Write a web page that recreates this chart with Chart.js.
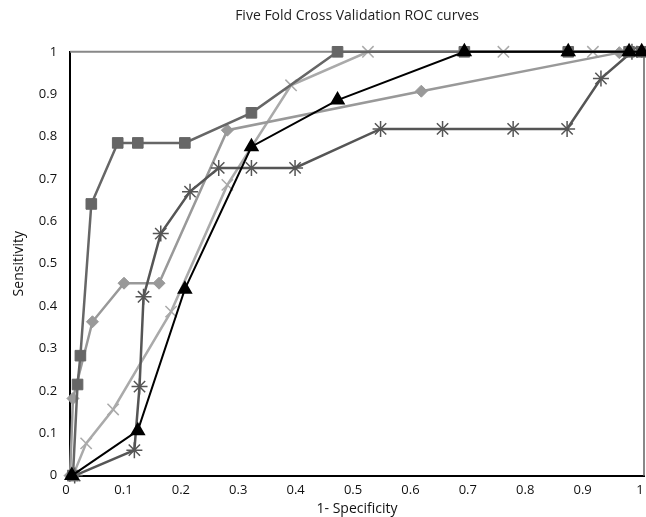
<!DOCTYPE html>
<html>
<head>
<meta charset="utf-8">
<script src="https://cdn.jsdelivr.net/npm/chart.js@4/dist/chart.umd.min.js"></script>
<style>
  body { margin: 0; background: #fff; }
  #wrap { width: 646px; height: 517px; }
</style>
</head>
<body>
<div id="wrap"><canvas id="roc-chart"></canvas></div>
<script>
// fold 1..5: x = 1-specificity, y = sensitivity
let triX = [0.003, 0.118, 0.2, 0.316, 0.466, 0.687, 0.868, 0.974, 0.996];
let triY = [0, 0.106, 0.44, 0.776, 0.886, 1, 1, 1, 1];

let sqX = [0.005, 0.013, 0.018, 0.037, 0.083, 0.118, 0.2, 0.316, 0.466, 0.687, 0.868, 0.974, 0.996];
let sqY = [0, 0.215, 0.283, 0.641, 0.785, 0.785, 0.785, 0.856, 1, 1, 1, 1, 1];

let starX = [0.008, 0.112, 0.121, 0.128, 0.158, 0.209, 0.259, 0.316, 0.392, 0.541, 0.649, 0.772, 0.866, 0.925, 0.979];
let starY = [0, 0.06, 0.21, 0.422, 0.571, 0.67, 0.726, 0.726, 0.726, 0.818, 0.818, 0.818, 0.818, 0.937, 1];

let diaX = [0, 0.005, 0.039, 0.094, 0.155, 0.274, 0.612, 0.957, 0.996];
let diaY = [0, 0.182, 0.363, 0.454, 0.454, 0.815, 0.907, 0.998, 1];

let crossX = [0.005, 0.028, 0.075, 0.176, 0.274, 0.385, 0.519, 0.755, 0.911, 0.996];
let crossY = [0, 0.076, 0.156, 0.387, 0.686, 0.921, 1, 1, 1, 1];

let tickFmt = v => Number(v.toFixed(1)).toString();

function pts(xs, ys) {
    return xs.map((x, i) => ({ x: x, y: ys[i] }));
}

// gray frame on top and right like the original
let frameLines = {
    id: 'frameLines',
    beforeDatasetsDraw(chart) {
        let a = chart.chartArea;
        let ctx = chart.ctx;
        ctx.save();
        ctx.strokeStyle = '#888';
        ctx.lineWidth = 2;
        ctx.beginPath();
        ctx.moveTo(a.left, a.top);
        ctx.lineTo(a.right, a.top);
        ctx.lineTo(a.right, a.bottom);
        ctx.stroke();
        ctx.restore();
    }
};

let rocData = {
    datasets: [{
        label: 'Fold 1',
        data: pts(triX, triY),
        borderColor: '#000',
        backgroundColor: '#000',
        pointStyle: 'triangle',
        pointRadius: 7,
        borderWidth: 2
    }, {
        label: 'Fold 2',
        data: pts(sqX, sqY),
        borderColor: '#666',
        backgroundColor: '#666',
        pointStyle: 'rect',
        pointRadius: 7.5
    }, {
        label: 'Fold 3',
        data: pts(starX, starY),
        borderColor: '#555',
        backgroundColor: '#555',
        pointStyle: 'star',
        pointRadius: 8,
        pointBorderWidth: 1.5
    }, {
        label: 'Fold 4',
        data: pts(diaX, diaY),
        borderColor: '#999',
        backgroundColor: '#999',
        pointStyle: 'rectRot',
        pointRadius: 6
    }, {
        label: 'Fold 5',
        data: pts(crossX, crossY),
        borderColor: '#aaa',
        backgroundColor: '#aaa',
        pointStyle: 'crossRot',
        pointRadius: 8,
        pointBorderWidth: 1.5
    }]
};

let roc = {
    type: 'scatter',
    data: rocData,
    plugins: [frameLines],
    options: {
        responsive: true,
        maintainAspectRatio: false,
        animation: false,
        showLine: true,
        datasets: {
            scatter: { clip: false }
        },
        elements: {
            line: { borderWidth: 2.5, tension: 0 }
        },
        layout: {
            autoPadding: false,
            padding: { left: 9, right: 0, top: 4, bottom: 0 }
        },
        plugins: {
            legend: { display: false },
            tooltip: { enabled: false },
            title: {
                display: true,
                fullSize: false,
                text: 'Five Fold Cross Validation ROC curves',
                color: '#222',
                font: { family: 'Open Sans', size: 14, weight: 'normal' },
                padding: { top: 4, bottom: 27 }
            }
        },
        scales: {
            x: {
                min: 0,
                max: 1,
                afterFit: s => { s.paddingRight = 2; },
                ticks: { stepSize: 0.1, callback: tickFmt, labelOffset: -4, color: '#111', padding: 2, font: { family: 'Open Sans', size: 13 } },
                grid: { display: false, drawTicks: true, tickLength: 5, tickColor: '#000' },
                border: { color: '#000', width: 2 },
                title: { display: true, text: '1- Specificity', color: '#111', padding: 0, font: { family: 'Open Sans', size: 14 } }
            },
            y: {
                min: 0,
                max: 1,
                ticks: { stepSize: 0.1, callback: tickFmt, color: '#111', padding: 9, font: { family: 'Open Sans', size: 13 } },
                grid: { display: false, drawTicks: true, tickLength: 4, tickColor: '#000' },
                border: { color: '#000', width: 2 },
                title: { display: true, text: 'Sensitivity', color: '#111', padding: 2, font: { family: 'Open Sans', size: 14 } }
            }
        }
    }
};

let rocChart = new Chart(document.getElementById('roc-chart'), roc);
</script>
</body>
</html>
